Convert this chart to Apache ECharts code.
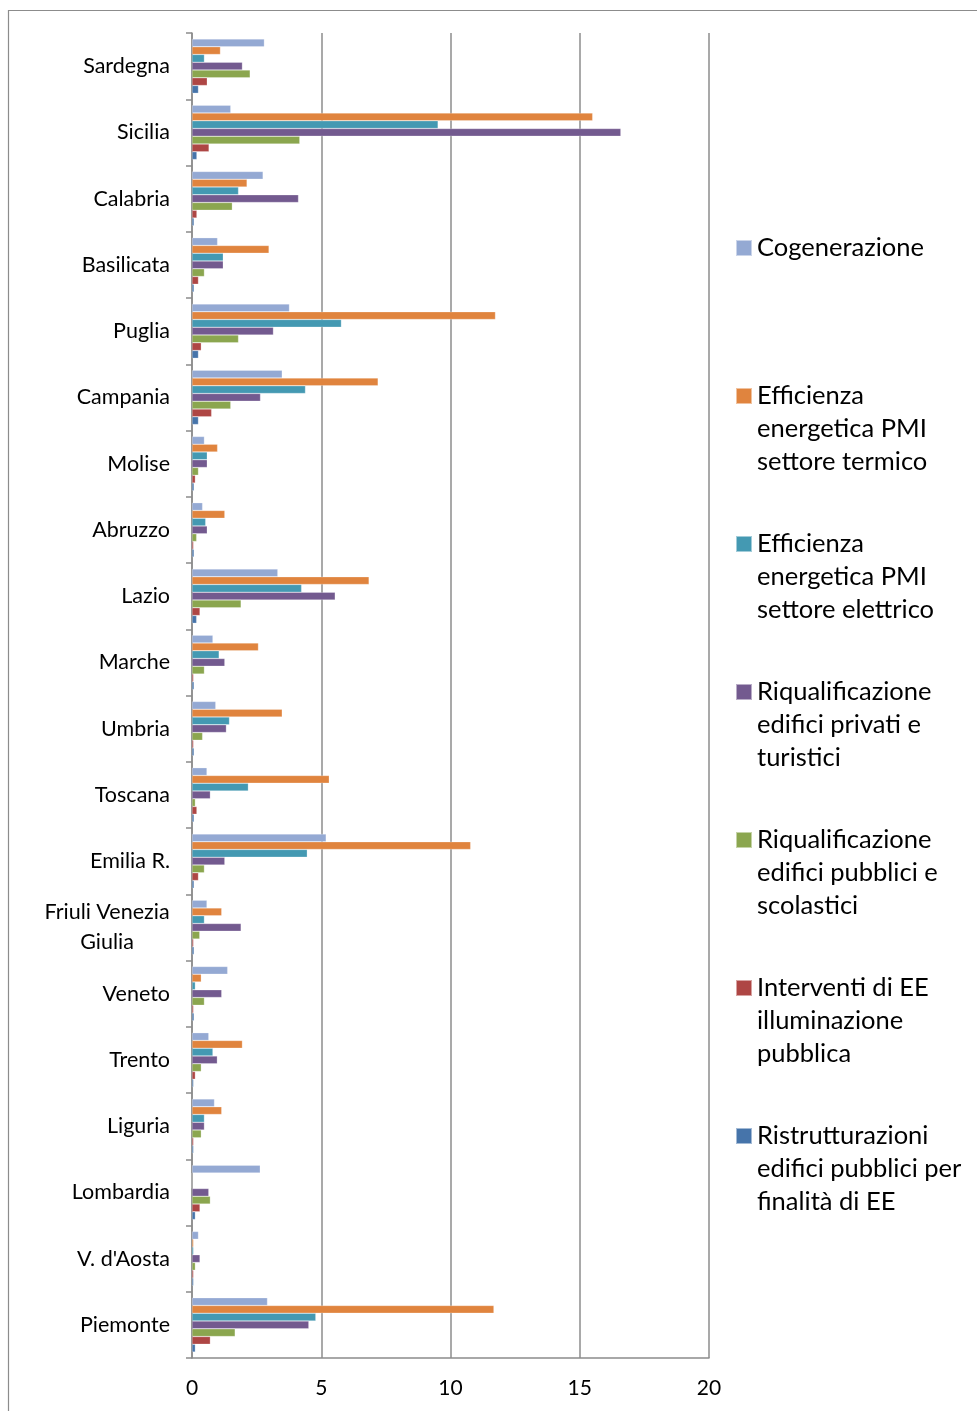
<!DOCTYPE html>
<html>
<head>
<meta charset="utf-8">
<script src="https://cdn.jsdelivr.net/npm/echarts@6/dist/echarts.min.js"></script>
<style>
html,body{margin:0;padding:0;background:#fff;}
#chart{width:977px;height:1411px;}
</style>
</head>
<body>
<div id="chart"></div>
<script>
// Categories, bottom to top (as drawn on the y axis)
const regions = ['Piemonte', "V. d'Aosta", 'Lombardia', 'Liguria', 'Trento', 'Veneto', 'Friuli Venezia\nGiulia', 'Emilia R.', 'Toscana', 'Umbria', 'Marche', 'Lazio', 'Abruzzo', 'Molise', 'Campania', 'Puglia', 'Basilicata', 'Calabria', 'Sicilia', 'Sardegna'];

const seriesNames = [
  'Cogenerazione',
  'Efficienza energetica PMI settore termico',
  'Efficienza energetica PMI settore elettrico',
  'Riqualificazione edifici privati e turistici',
  'Riqualificazione edifici pubblici e scolastici',
  'Interventi di EE illuminazione pubblica',
  'Ristrutturazioni edifici pubblici per finalità di EE'
];
const legendLabels = [
  'Cogenerazione',
  'Efficienza\nenergetica PMI\nsettore termico',
  'Efficienza\nenergetica PMI\nsettore elettrico',
  'Riqualificazione\nedifici privati e\nturistici',
  'Riqualificazione\nedifici pubblici e\nscolastici',
  'Interventi di EE\nilluminazione\npubblica',
  'Ristrutturazioni\nedifici pubblici per\nfinalità di EE'
];

// Values, same order as regions (Piemonte ... Sardegna)
const cogenerazione       = [2.92, 0.25, 2.64, 0.87, 0.65, 1.38, 0.58, 5.19, 0.58, 0.92, 0.81, 3.32, 0.41, 0.48, 3.49, 3.77, 0.99, 2.75, 1.50, 2.80];
const efficienzaTermico   = [11.68, 0.06, 0, 1.15, 1.95, 0.36, 1.15, 10.78, 5.31, 3.49, 2.57, 6.85, 1.27, 0.99, 7.20, 11.74, 2.98, 2.13, 15.50, 1.10];
const efficienzaElettrico = [4.79, 0.06, 0, 0.48, 0.81, 0.13, 0.48, 4.46, 2.18, 1.45, 1.05, 4.24, 0.53, 0.59, 4.39, 5.78, 1.21, 1.80, 9.52, 0.48];
const riqualPrivati       = [4.52, 0.31, 0.65, 0.48, 0.98, 1.15, 1.90, 1.27, 0.71, 1.33, 1.27, 5.54, 0.59, 0.59, 2.65, 3.15, 1.21, 4.12, 16.59, 1.95];
const riqualPubblici      = [1.67, 0.13, 0.71, 0.36, 0.36, 0.48, 0.30, 0.48, 0.13, 0.41, 0.48, 1.90, 0.18, 0.25, 1.50, 1.80, 0.48, 1.56, 4.17, 2.25];
const illuminazione       = [0.71, 0.06, 0.31, 0.06, 0.13, 0.06, 0.06, 0.25, 0.19, 0.06, 0.06, 0.31, 0.06, 0.13, 0.76, 0.36, 0.25, 0.19, 0.66, 0.59];
const ristrutturazioni    = [0.13, 0.06, 0.13, 0.06, 0.06, 0.08, 0.08, 0.08, 0.08, 0.08, 0.08, 0.18, 0.08, 0.08, 0.25, 0.25, 0.08, 0.08, 0.19, 0.25];

const xTicks = [0, 5, 10, 15, 20];

const seriesData = [cogenerazione, efficienzaTermico, efficienzaElettrico, riqualPrivati, riqualPubblici, illuminazione, ristrutturazioni];
const colors = ['#94A9D3', '#E0843E', '#4499B2', '#735A8F', '#8BA64F', '#AE4644', '#4674AA'];

const FONT = 'Lato';
const legendCenters = [248, 396, 544, 692, 840, 988, 1136];
const LH = 33;

const legends = seriesNames.map((n, i) => {
  const lines = legendLabels[i].split('\n').length;
  // prepend empty lines so that the first text line sits on the icon's centre line
  const label = '\n'.repeat(lines - 1) + legendLabels[i];
  const boxH = (2 * lines - 1) * LH;
  return {
    data: [n],
    orient: 'vertical',
    left: 735,
    top: legendCenters[i] - boxH / 2,
    icon: 'rect',
    itemWidth: 16,
    itemHeight: 16,
    itemGap: 0,
    padding: 0,
    selectedMode: false,
    formatter: () => label,
    textStyle: {
      fontFamily: FONT,
      fontSize: 25.5,
      color: '#000',
      lineHeight: LH
    }
  };
});

const chart = echarts.init(document.getElementById('chart'), null, {renderer: 'canvas'});
chart.setOption({
  animation: false,
  color: colors,
  graphic: [{
    type: 'rect',
    shape: {x: 8.5, y: 10.5, width: 1100, height: 1500},
    style: {fill: 'none', stroke: '#8c8c8c', lineWidth: 1.2},
    silent: true,
    z: -10
  }],
  legend: legends,
  grid: {left: 192, right: 268, top: 33, bottom: 53, containLabel: false},
  xAxis: {
    type: 'value',
    min: 0,
    max: 20,
    interval: 5,
    axisLine: {show: true, lineStyle: {color: '#8c8c8c', width: 1.5}},
    axisTick: {show: false},
    splitLine: {show: true, lineStyle: {color: '#8c8c8c', width: 1.5}},
    axisLabel: {
      fontFamily: FONT, fontSize: 21, color: '#000', margin: 20,
      formatter: v => xTicks.includes(v) ? String(v) : ''
    }
  },
  yAxis: {
    type: 'category',
    data: regions,
    axisLine: {show: true, lineStyle: {color: '#8c8c8c', width: 1.5}},
    axisTick: {show: true, length: 6, lineStyle: {color: '#8c8c8c', width: 1.5}},
    axisLabel: {
      fontFamily: FONT, fontSize: 21.5, color: '#000', margin: 22, lineHeight: 30,
      formatter: v => v.indexOf('\n') >= 0 ? v.split('\n').map(s => '{c|' + s + '}').join('\n') : v,
      rich: {c: {fontFamily: FONT, fontSize: 21.5, color: '#000', width: 126, align: 'center', lineHeight: 30}}
    }
  },
  series: seriesNames.map((n, i) => ({
    name: n,
    type: 'bar',
    data: seriesData[i],
    barGap: '0%',
    barCategoryGap: '18%',
    itemStyle: {color: colors[i], borderColor: 'rgba(255,255,255,0.5)', borderWidth: 0.5}
  }))
});
</script>
</body>
</html>
